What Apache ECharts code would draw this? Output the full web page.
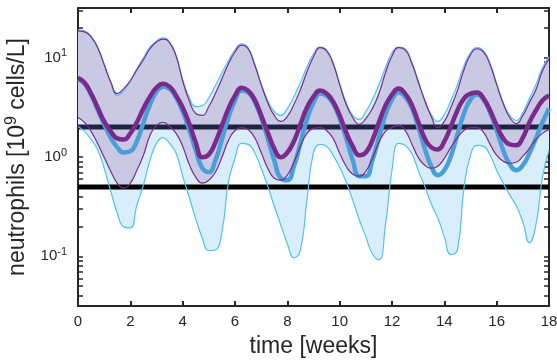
<!DOCTYPE html>
<html>
<head>
<meta charset="utf-8">
<script src="https://cdn.jsdelivr.net/npm/echarts@6/dist/echarts.min.js"></script>
<style>
  html, body { margin: 0; padding: 0; background: #fff; }
  #chart { width: 557px; height: 362px; }
</style>
</head>
<body>
<div id="chart"></div>
<script>
// time grid in weeks
const weeks = [
  0, 0.25, 0.5, 0.75, 1, 1.25, 1.5, 1.75, 2, 2.25, 2.5, 2.75, 3, 3.25, 3.5, 3.75,
  4, 4.25, 4.5, 4.75, 5, 5.25, 5.5, 5.75, 6, 6.25, 6.5, 6.75, 7, 7.25, 7.5, 7.75,
  8, 8.25, 8.5, 8.75, 9, 9.25, 9.5, 9.75, 10, 10.25, 10.5, 10.75, 11, 11.25, 11.5, 11.75,
  12, 12.25, 12.5, 12.75, 13, 13.25, 13.5, 13.75, 14, 14.25, 14.5, 14.75, 15, 15.25, 15.5, 15.75,
  16, 16.25, 16.5, 16.75, 17, 17.25, 17.5, 17.75, 18
];

// neutrophils, 10^9 cells/L
const blueUpper = [
  19.0, 18.6, 16.5, 12.8, 8.68, 5.60, 4.15, 4.66, 5.86, 7.73, 9.97, 12.8, 14.7, 15.8, 14.4, 10.4,
  6.00, 3.96, 3.22, 3.29, 3.96, 5.22, 7.05, 9.30, 12.0, 13.8, 12.6, 8.68, 5.47, 3.70, 2.87, 2.62,
  3.07, 4.05, 5.60, 8.10, 10.9, 12.8, 12.0, 8.88, 5.47, 3.53, 2.62, 2.39, 2.87, 3.78, 5.35, 7.91,
  11.2, 12.8, 12.3, 9.09, 5.86, 3.78, 2.68, 2.28, 2.68, 3.70, 5.35, 8.28, 11.2, 12.6, 11.7, 8.68,
  5.47, 3.53, 2.62, 2.33, 2.80, 3.87, 5.35, 7.91, 10.2
];
const blueLower = [
  2.03, 1.81, 1.50, 1.19, 0.771, 0.453, 0.273, 0.198, 0.193, 0.328, 0.521, 0.927, 1.37, 1.57, 1.37, 1.09,
  0.641, 0.395, 0.238, 0.153, 0.114, 0.116, 0.176, 0.558, 0.970, 1.37, 1.34, 1.11, 0.771, 0.509, 0.321, 0.207,
  0.134, 0.0967, 0.116, 0.368, 1.11, 1.34, 1.28, 1.04, 0.789, 0.558, 0.368, 0.232, 0.157, 0.106, 0.0923, 0.207,
  0.736, 1.37, 1.31, 1.09, 0.736, 0.509, 0.336, 0.243, 0.157, 0.104, 0.116, 0.486, 1.04, 1.31, 1.28, 1.04,
  0.736, 0.545, 0.413, 0.321, 0.222, 0.137, 0.207, 0.626, 1.17
];
const blueMedian = [
  6.14, 5.47, 4.25, 3.00, 2.13, 1.57, 1.25, 1.11, 1.14, 1.44, 2.23, 3.37, 4.55, 5.11, 4.88, 3.96,
  2.87, 1.89, 1.17, 0.771, 0.703, 0.927, 1.50, 2.50, 3.70, 4.66, 4.45, 3.61, 2.50, 1.54, 0.927, 0.612,
  0.584, 0.807, 1.37, 2.39, 3.53, 4.35, 4.15, 3.45, 2.44, 1.54, 0.927, 0.641, 0.641, 0.927, 1.57, 2.68,
  3.78, 4.45, 4.05, 3.15, 2.03, 1.22, 0.807, 0.656, 0.736, 1.02, 1.69, 2.74, 3.78, 4.25, 3.78, 2.80,
  1.85, 1.17, 0.845, 0.736, 0.826, 1.09, 1.54, 2.23, 3.07
];
const purpleUpper = [
  18.6, 18.2, 16.2, 12.6, 8.48, 5.73, 4.35, 4.88, 5.86, 7.55, 9.52, 12.3, 14.4, 15.4, 14.1, 10.4,
  5.86, 3.70, 2.74, 2.62, 3.22, 4.35, 6.14, 8.68, 11.4, 13.4, 12.3, 8.48, 5.35, 3.53, 2.62, 2.28,
  2.56, 3.37, 4.76, 7.21, 10.2, 12.6, 11.7, 8.68, 5.35, 3.37, 2.50, 2.13, 2.44, 3.07, 4.35, 7.05,
  10.4, 12.6, 12.0, 8.88, 5.73, 3.70, 2.56, 1.98, 2.28, 3.15, 4.66, 7.55, 10.7, 12.3, 11.4, 8.48,
  5.35, 3.45, 2.50, 2.17, 2.62, 3.53, 4.76, 7.38, 9.74
];
const purpleLower = [
  2.50, 2.23, 1.81, 1.37, 0.993, 0.719, 0.545, 0.486, 0.545, 0.736, 1.04, 1.65, 2.08, 2.23, 2.03, 1.73,
  1.28, 0.845, 0.626, 0.545, 0.584, 0.703, 0.993, 1.47, 1.85, 1.98, 1.89, 1.57, 1.11, 0.771, 0.612, 0.584,
  0.656, 0.885, 1.28, 1.73, 1.94, 1.98, 1.85, 1.54, 1.09, 0.807, 0.671, 0.641, 0.719, 0.970, 1.40, 1.81,
  1.98, 2.08, 1.85, 1.37, 0.993, 0.826, 0.771, 0.807, 0.970, 1.25, 1.57, 1.85, 1.98, 1.98, 1.77, 1.34,
  1.04, 0.906, 0.865, 0.885, 1.02, 1.22, 1.50, 1.73, 1.89
];
const purpleMedian = [
  6.28, 5.60, 4.35, 3.15, 2.28, 1.81, 1.54, 1.50, 1.73, 2.23, 3.07, 4.05, 4.99, 5.47, 5.11, 4.15,
  3.15, 2.17, 1.40, 0.993, 1.06, 1.40, 2.08, 3.07, 4.15, 4.99, 4.66, 3.78, 2.62, 1.77, 1.22, 0.993,
  1.11, 1.44, 2.13, 3.15, 4.05, 4.66, 4.35, 3.61, 2.62, 1.77, 1.28, 1.04, 1.11, 1.47, 2.23, 3.29,
  4.25, 4.88, 4.35, 3.37, 2.28, 1.54, 1.25, 1.19, 1.44, 2.03, 2.94, 3.87, 4.35, 4.45, 3.87, 2.94,
  2.08, 1.54, 1.34, 1.31, 1.57, 2.23, 2.94, 3.70, 4.15
];

const thresholds = [2, 0.5];
const xTicks = [0, 18, 2];
const yLabelValues = [0.1, 1, 10];
const yTickValues = [
  0.04, 0.05, 0.06, 0.07, 0.08, 0.09, 0.1, 0.2, 0.3, 0.4, 0.5, 0.6, 0.7, 0.8, 0.9,
  1, 2, 3, 4, 5, 6, 7, 8, 9, 10, 20, 30
];

const FONT = '"Liberation Sans", Arial, Helvetica, sans-serif';
const INK = '#262626';

const lg = v => Math.log10(v);
const pts = arr => arr.map((v, i) => [weeks[i], lg(v)]);

const chart = echarts.init(document.getElementById('chart'), null, { renderer: 'canvas' });

const xBase = {
  type: 'value', min: xTicks[0], max: xTicks[1], interval: xTicks[2],
  axisLine: { show: true, onZero: false, lineStyle: { color: INK, width: 2 } },
  axisTick: { show: true, inside: true, length: 5, lineStyle: { color: INK, width: 2 } },
  splitLine: { show: false },
};
const yBase = {
  type: 'value', min: -1.5, max: 1.5,
  axisLine: { show: true, onZero: false, lineStyle: { color: INK, width: 2 } },
  axisTick: { show: true, inside: true, length: 5, customValues: yTickValues.map(lg), lineStyle: { color: INK, width: 1.5 } },
  splitLine: { show: false },
};

// bands: lower edge (invisible) + stacked thickness, on a hidden category axis over the same grid
const bandPair = (key, hi, lo, fill) => [
  {
    name: key + 'Base', type: 'line', xAxisIndex: 2, stack: key, stackStrategy: 'all',
    data: lo.map(lg), smooth: true, symbol: 'none', silent: true, z: 1,
    lineStyle: { opacity: 0 },
  },
  {
    name: key + 'Band', type: 'line', xAxisIndex: 2, stack: key, stackStrategy: 'all',
    data: hi.map((v, i) => lg(v) - lg(lo[i])), smooth: true, symbol: 'none', silent: true, z: 1,
    lineStyle: { opacity: 0 },
    areaStyle: { color: fill, opacity: 1 },
  },
];
const curve = (name, arr, color, width, z) => ({
  name, type: 'line', data: pts(arr), smooth: true, symbol: 'none', silent: true, z,
  lineStyle: { color, width },
});
const hline = (v, color, z) => ({
  type: 'line', data: [[xTicks[0], lg(v)], [xTicks[1], lg(v)]], symbol: 'none', silent: true, z,
  lineStyle: { color, width: 5 },
});

const option = {
  animation: false,
  backgroundColor: '#fff',
  textStyle: { fontFamily: FONT, color: INK },
  grid: { left: 78, right: 8, top: 8, bottom: 56, containLabel: false, outerBoundsMode: 'none' },
  xAxis: [
    {
      ...xBase, position: 'bottom',
      axisLabel: { show: true, fontSize: 15, color: INK, fontFamily: FONT, margin: 8 },
      name: 'time [weeks]', nameLocation: 'middle', nameGap: 29,
      nameTextStyle: { fontSize: 23, color: INK, fontFamily: FONT },
    },
    { ...xBase, position: 'top', axisLabel: { show: false } },
    {
      type: 'category', data: weeks, boundaryGap: false, show: false,
      axisLine: { show: false }, axisTick: { show: false }, axisLabel: { show: false },
    },
  ],
  yAxis: [
    {
      ...yBase, position: 'left',
      axisLabel: {
        show: true, margin: 11, customValues: yLabelValues.map(lg),
        formatter: v => '{b|10}{s|' + Math.round(v) + '}',
        rich: {
          b: { fontSize: 15, color: INK, fontFamily: FONT },
          s: { fontSize: 11, color: INK, fontFamily: FONT, padding: [0, 0, 9, 0] },
        },
      },
      name: 'neutrophils [10{s|9} cells/L]', nameLocation: 'middle', nameGap: 32, nameRotate: 90,
      nameTextStyle: {
        fontSize: 23, color: INK, fontFamily: FONT,
        rich: { s: { fontSize: 16, color: INK, fontFamily: FONT, padding: [0, 0, 14, 0] } },
      },
    },
    { ...yBase, position: 'right', axisLabel: { show: false } },
  ],
  series: [
    ...bandPair('blue', blueUpper, blueLower, '#d8eefa'),
    ...bandPair('purple', purpleUpper, purpleLower, '#c9c9e4'),
    hline(thresholds[0], '#1e2340', 3),
    hline(thresholds[1], '#000000', 3),
    curve('blueUpper', blueUpper, '#55c1ee', 1.2, 4),
    curve('blueLower', blueLower, '#55c1ee', 1.2, 4),
    curve('blueMedian', blueMedian, '#4a9fd8', 4.5, 5),
    curve('purpleUpper', purpleUpper, '#7b2d8e', 1.2, 6),
    curve('purpleLower', purpleLower, '#7b2d8e', 1.2, 6),
    curve('purpleMedian', purpleMedian, '#7a2a8b', 4.5, 7),
  ],
};

chart.setOption(option);
window.addEventListener('resize', () => chart.resize());
</script>
</body>
</html>
